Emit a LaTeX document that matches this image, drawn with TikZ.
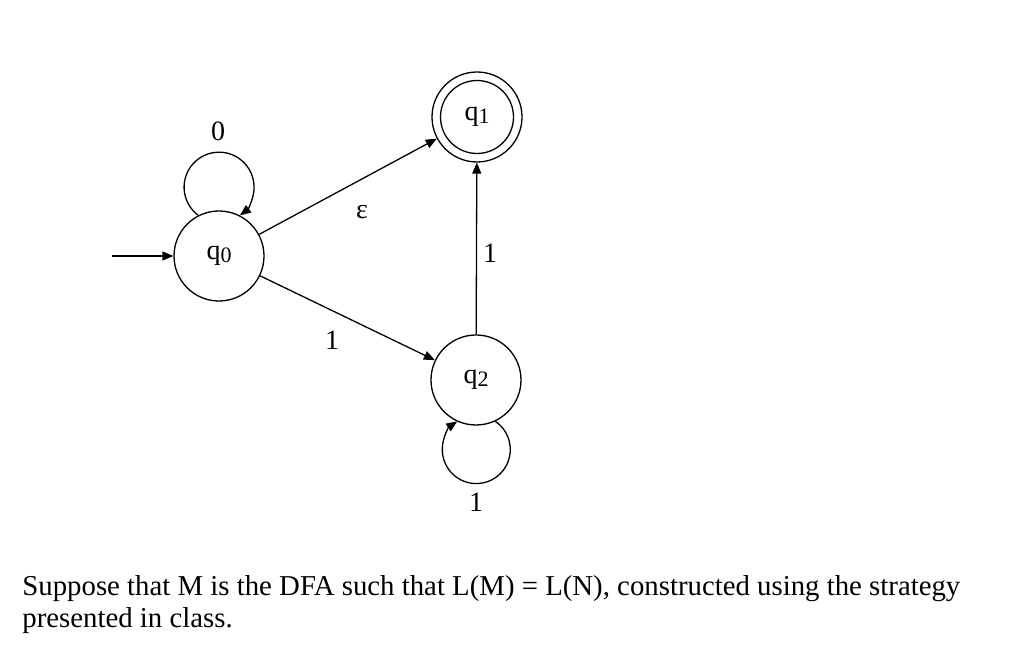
\documentclass[tikz,border=0pt]{standalone}
\usepackage{fontspec}
\setmainfont{Liberation Serif}
\usetikzlibrary{arrows.meta,positioning}
\newcommand{\qsub}[1]{q{\fontsize{11}{11}\selectfont\raisebox{-1.5pt}{#1}}}
\tikzset{dfastate/.style={circle,draw,line width=0.65pt,minimum size=45pt,inner sep=0pt,
    font=\fontsize{14}{16}\selectfont},
  edge/.style={-{Triangle[length=5.5pt,width=4.5pt]},line width=0.65pt},
  lbl/.style={font=\fontsize{14}{16}\selectfont,inner sep=1pt},
  caption/.style={font=\fontsize{14.4}{16}\selectfont,align=left,inner sep=0pt}}

\begin{document}
\begin{tikzpicture}[x=0.5pt,y=-0.5pt]
    \useasboundingbox (0,0) rectangle (1024,662);
    % states
    \node[dfastate] (q0) at (219,256) {\qsub{0}};
    \node[dfastate] (q1) at (477,117) {\qsub{1}};
    \node[dfastate] (q2) at (476,380) {\qsub{2}};
    \draw[line width=0.65pt] (q1) circle[radius=18.25pt];
    \coordinate (start) at (112,256);
    % transitions
    \draw[edge] (start) -- (q0);
    \draw[edge] (q0) -- (q1);
    \draw[edge] (q0) -- (q2);
    \draw[edge] (q2) -- (q1);
    \draw[edge] (q0.117.5) arc[start angle=233.5,end angle=-53.5,radius=17.5pt];
    \draw[edge] (q2.-65) arc[start angle=56,end angle=-236,radius=17pt];
    % labels
    \node[lbl] (l0) at (218,131) {0};
    \node[lbl] (leps) at (362,212) {ε};
    \node[lbl] (l02) at (332,340) {1};
    \node[lbl] (l21) at (490,253) {1};
    \node[lbl] (l22) at (476,502) {1};
    \node[caption,anchor=north west] (text) at (22,575)
      {Suppose that M is the DFA such that L(M) = L(N), constructed using the strategy\\
       presented in class.};
  \end{tikzpicture}
\end{document}
